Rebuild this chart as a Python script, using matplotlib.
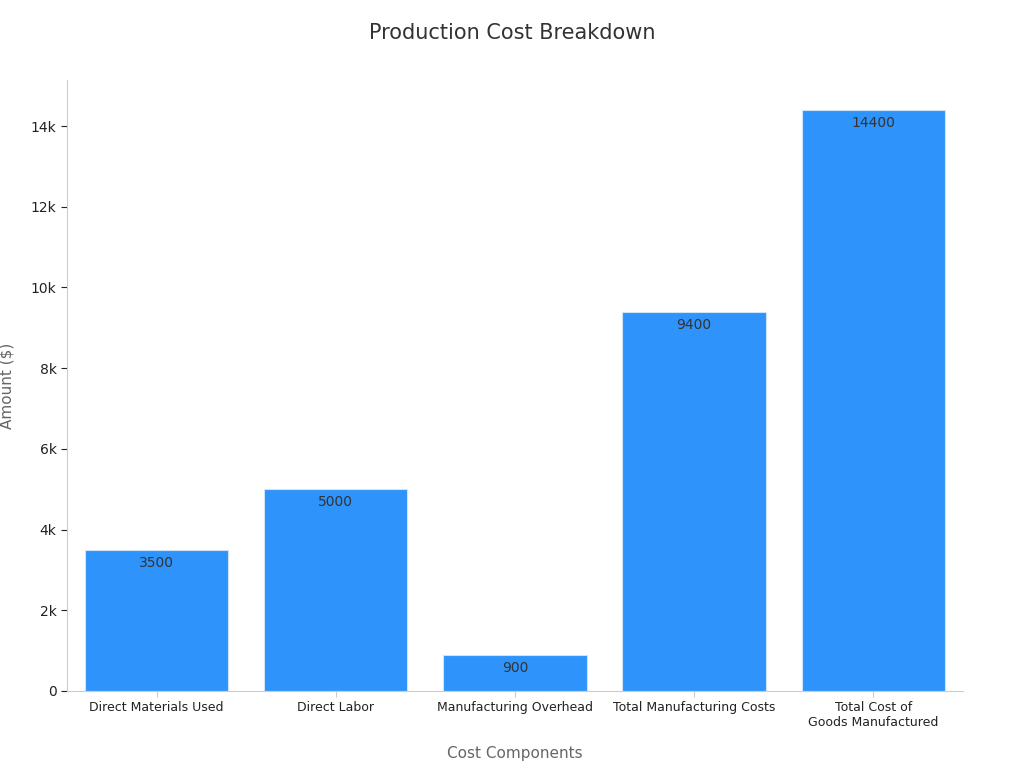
import matplotlib
matplotlib.use("Agg")
import matplotlib.pyplot as plt
from matplotlib.ticker import FuncFormatter

categories = ["Direct Materials Used", "Direct Labor", "Manufacturing Overhead",
              "Total Manufacturing Costs", "Total Cost of\nGoods Manufactured"]
values = [3500, 5000, 900, 9400, 14400]

fig = plt.figure(figsize=(10.24, 7.68), dpi=100)
ax = fig.add_axes([0.0654, 0.1003, 0.875, 0.7955])
x = range(len(categories))
bars = ax.bar(x, values, width=0.8, color="#2E93FA", edgecolor="#cfe3fb", linewidth=0.8)
for xi, v in zip(x, values):
    ax.text(xi, v - 150, str(v), ha="center", va="top", fontsize=10, color="#333333")
ax.set_xlim(-0.5, 4.5)
ax.set_ylim(0, 15140)
ax.set_xticks(list(x))
ax.set_xticklabels(categories, fontsize=9, color="#222222")
ax.set_yticks(range(0, 15000, 2000))
ax.yaxis.set_major_formatter(FuncFormatter(lambda v, p: "0" if v == 0 else f"{int(v/1000)}k"))
ax.tick_params(axis="y", labelsize=10, colors="#222222", length=4)
ax.tick_params(axis="x", length=4, colors="#cccccc", labelcolor="#222222")
for s in ["top", "right"]:
    ax.spines[s].set_visible(False)
ax.spines["left"].set_color("#cccccc")
ax.spines["bottom"].set_color("#cccccc")
ax.set_xlabel("Cost Components", fontsize=11, color="#666666", labelpad=12)
ax.set_ylabel("Amount ($)", fontsize=11, color="#666666", labelpad=12)
fig.text(0.5, 0.957, "Production Cost Breakdown", ha="center", va="center", fontsize=15, color="#333333")
fig.savefig("out.png", dpi=100)
